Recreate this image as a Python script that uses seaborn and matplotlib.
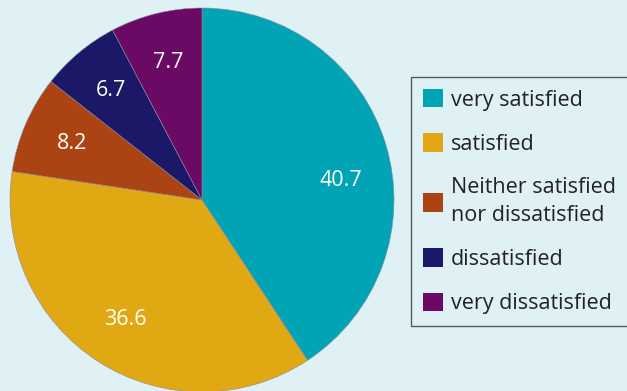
import numpy as np
import matplotlib.pyplot as plt
import seaborn as sns

labels = ["very satisfied", "satisfied", "Neither satisfied\nnor dissatisfied",
          "dissatisfied", "very dissatisfied"]
values = [40.7, 36.6, 8.2, 6.7, 7.7]
colors = ["#00a4b5", "#e0a812", "#ab4312", "#1b1868", "#6a0a64"]
bg = "#dff1f4"

sns.set_style("white")
plt.rcParams["font.family"] = ["Open Sans", "DejaVu Sans"]

fig = plt.figure(figsize=(6.27, 3.91), dpi=100, facecolor=bg)
ax = fig.add_axes([10 / 627, -1 / 391, 384 / 627, 384 / 391])
ax.set_facecolor(bg)

wedges, texts, autotexts = ax.pie(
    values, colors=colors, startangle=90, counterclock=False,
    autopct=lambda p: "", pctdistance=0.74,
    wedgeprops=dict(linewidth=0.4, edgecolor="#8a8aa0"),
)
for t, v in zip(autotexts, values):
    t.set_text(f"{v}")
    t.set_color("white")
    t.set_fontsize(15.5)
# first label sits a bit lower than the wedge middle in the original
a = np.deg2rad(8)
autotexts[0].set_position((0.73 * np.cos(a), 0.73 * np.sin(a)))

ax.set_xlim(-1, 1)
ax.set_ylim(-1, 1)
ax.set_aspect("equal")
ax.axis("off")

leg = fig.legend(
    wedges, labels, loc="upper left", bbox_to_anchor=(411 / 627, 1 - 77 / 391),
    fontsize=15.5, frameon=True, fancybox=False, facecolor=bg, edgecolor="#333333",
    handlelength=0.95, handleheight=0.95, handletextpad=0.35, labelspacing=1.05,
    borderpad=0.55, borderaxespad=0,
)
leg.get_frame().set_linewidth(1.0)
for t in leg.get_texts():
    t.set_color("#222222")
    t.set_linespacing(1.4)
for h in leg.legend_handles:
    h.set_edgecolor("none")

fig.savefig("out.png", dpi=100, facecolor=bg)
